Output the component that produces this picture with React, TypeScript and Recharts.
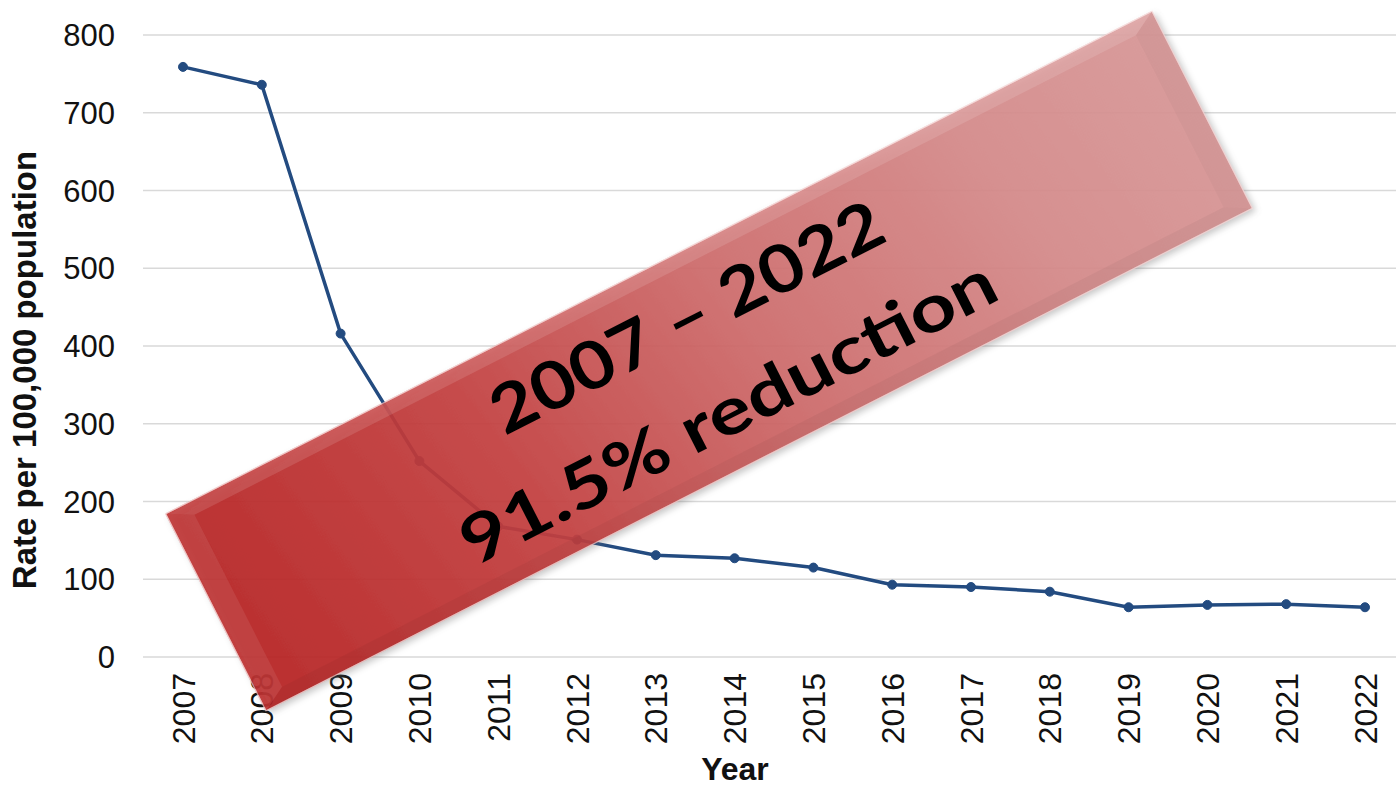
import { LineChart, Line, XAxis, YAxis, CartesianGrid, Customized } from 'recharts';

// Annual rate per 100,000 population
const years = ['2007', '2008', '2009', '2010', '2011', '2012', '2013', '2014', '2015', '2016', '2017', '2018', '2019', '2020', '2021', '2022'];
const rates = [759, 736, 416, 252, 168, 151, 131, 127, 115, 93, 90, 84, 64, 67, 68, 64];
const yTicks = [0, 100, 200, 300, 400, 500, 600, 700, 800];
const bannerLines = ['2007 \u2013 2022', '91.5% reduction'];

const data = years.map((year, i) => ({ year, rate: rates[i] }));

const LINE_COLOR = '#234b80';
const AXIS_FONT = '"Liberation Sans", Arial, sans-serif';
const BANNER_FONT = 'Lato, "Open Sans", sans-serif';

// Rotated call-out box, in page pixels
const banner = { cx: 709, cy: 361, length: 1107, depth: 221, angle: -27, bevel: 14 };

function YearTick(props: any) {
  const { x, y, payload } = props;
  return (
    <text
      x={x}
      y={y}
      transform={`rotate(-90, ${x}, ${y})`}
      textAnchor="end"
      dy="0.36em"
      fontSize={32}
      fill="#111"
      fontFamily={AXIS_FONT}
    >
      {payload.value}
    </text>
  );
}

function AxisTitles() {
  return (
    <g fontFamily={AXIS_FONT} fontWeight="bold" fill="#111">
      <text x={36} y={370} transform="rotate(-90, 36, 370)" textAnchor="middle" fontSize={33}>
        Rate per 100,000 population
      </text>
      <text x={735} y={780} textAnchor="middle" fontSize={32}>
        Year
      </text>
    </g>
  );
}

function Banner() {
  const { cx, cy, length, depth, angle, bevel: b } = banner;
  const hl = length / 2;
  const hd = depth / 2;
  const o = { l: -hl, r: hl, t: -hd, b: hd };
  const i = { l: -hl + b * 1.8, r: hl - b * 1.8, t: -hd + b, b: hd - b };
  const pts = (arr: number[][]) => arr.map((p) => p.join(',')).join(' ');
  return (
    <svg
      width={1396}
      height={787}
      style={{ position: 'absolute', left: 0, top: 0, pointerEvents: 'none' }}
    >
      <defs>
        <linearGradient id="bannerFill" gradientUnits="userSpaceOnUse" x1={-hl} y1={hd} x2={hl} y2={-hd}>
          <stop offset="0%" stopColor="#b71a1a" />
          <stop offset="30%" stopColor="#c43c3c" />
          <stop offset="55%" stopColor="#cf6b6b" />
          <stop offset="80%" stopColor="#d68a8a" />
          <stop offset="100%" stopColor="#d99797" />
        </linearGradient>
        <filter id="bannerShadow" x="-10%" y="-20%" width="120%" height="150%">
          <feDropShadow dx="2" dy="4" stdDeviation="3" floodColor="#666" floodOpacity="0.4" />
        </filter>
      </defs>
      <g transform={`translate(${cx}, ${cy}) rotate(${angle})`}>
        <rect
          x={o.l}
          y={o.t}
          width={length}
          height={depth}
          fill="url(#bannerFill)"
          fillOpacity={0.9}
          filter="url(#bannerShadow)"
        />
        {/* bevel facets */}
        <polygon points={pts([[o.l, o.t], [o.r, o.t], [i.r, i.t], [i.l, i.t]])} fill="#fff" fillOpacity={0.12} />
        <polygon points={pts([[o.l, o.t], [i.l, i.t], [i.l, i.b], [o.l, o.b]])} fill="#fff" fillOpacity={0.08} />
        <polygon points={pts([[o.r, o.t], [o.r, o.b], [i.r, i.b], [i.r, i.t]])} fill="#000" fillOpacity={0.025} />
        <polygon points={pts([[o.l, o.b], [i.l, i.b], [i.r, i.b], [o.r, o.b]])} fill="#000" fillOpacity={0.04} />
        <rect x={o.l} y={o.t} width={length} height={depth} fill="none" stroke="#fbe5e5" strokeOpacity={0.6} strokeWidth={1.2} />
        <g fontFamily={BANNER_FONT} fontWeight="bold" fontSize={66} fill="#000" textAnchor="middle">
          <text x={0} y={-26} textLength={432} lengthAdjust="spacingAndGlyphs">{bannerLines[0]}</text>
          <text x={-6} y={77} textLength={592} lengthAdjust="spacingAndGlyphs">{bannerLines[1]}</text>
        </g>
      </g>
    </svg>
  );
}

export default function App() {
  return (
    <div style={{ position: 'absolute', left: 0, top: 0, width: 1396, height: 787, overflow: 'hidden', background: '#fff' }}>
      <LineChart width={1410} height={787} data={data} margin={{ top: 35, right: 5, bottom: 100, left: 0 }}>
        <CartesianGrid horizontal vertical={false} stroke="#d9d9d9" strokeWidth={1.5} />
        <XAxis
          dataKey="year"
          height={30}
          axisLine={false}
          tickLine={false}
          tickMargin={10}
          padding={{ left: 40, right: 40 }}
          interval={0}
          tick={<YearTick />}
        />
        <YAxis
          width={143}
          domain={[0, 800]}
          ticks={yTicks}
          axisLine={false}
          tickLine={false}
          tickMargin={22}
          tick={{ fontSize: 31, fill: '#111', fontFamily: AXIS_FONT }}
        />
        <Line
          type="linear"
          dataKey="rate"
          stroke={LINE_COLOR}
          strokeWidth={3.5}
          dot={{ r: 4.5, fill: LINE_COLOR, stroke: LINE_COLOR, strokeWidth: 1 }}
          isAnimationActive={false}
        />
        <Customized component={AxisTitles} />
      </LineChart>
      <Banner />
    </div>
  );
}
